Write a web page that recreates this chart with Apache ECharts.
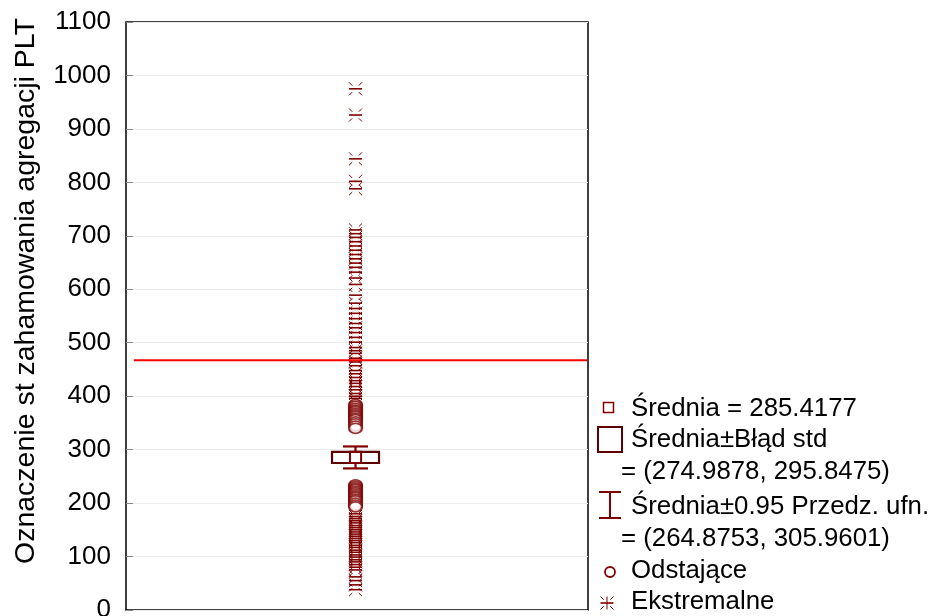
<!DOCTYPE html>
<html><head><meta charset="utf-8">
<script src="https://cdn.jsdelivr.net/npm/echarts@6/dist/echarts.min.js"></script>
<style>html,body{margin:0;padding:0;background:#fff}#c{width:932px;height:616px}</style>
</head><body><div id="c"></div>
<script>
const yAxisTitle = 'Oznaczenie st zahamowania agregacji PLT';
const yMin = 0, yMax = 1100, yInterval = 100;
const meanValue = 285.4177;
const stdErrRange = [274.9878, 295.8475];
const ci95Range = [264.8753, 305.9601];
const outliersHigh = [384, 381, 377, 374, 371, 368, 365, 362, 359, 356, 352, 348, 344, 340];
const outliersLow = [234, 231, 228, 225, 222, 219, 216, 213, 210, 207, 204, 200, 196, 193];
const extremesHigh = [975, 926, 844, 802, 788, 711, 704, 697, 689, 681, 673, 665, 657, 649, 641, 632, 621, 609, 589, 574, 564, 555, 545, 536, 528, 519, 510, 501, 491, 485, 480, 471, 464, 457, 448, 442, 435, 429, 424, 418, 412, 405, 400, 396];
const extremesLow = [180, 175, 171, 167, 163, 158, 154, 150, 146, 142, 138, 134, 130, 126, 121, 117, 112, 108, 103, 99, 94, 90, 85, 80, 75, 62, 55, 47, 38];
const referenceLine = 467;
const legendLabels = ['Średnia = 285.4177', 'Średnia±Błąd std', '= (274.9878, 295.8475)', 'Średnia±0.95 Przedz. ufn.', '= (264.8753, 305.9601)', 'Odstające', 'Ekstremalne'];

const MAROON = '#800000';
const FONT = 'Liberation Sans, Arial, sans-serif';
const colX = 0.4968;

const chart = echarts.init(document.getElementById('c'), null, {renderer: 'canvas'});

function starLines(cx, cy, vertical) {
  const hw = 6.5, hh = 6.5, s = 3.2;
  const st = {stroke: MAROON, lineWidth: 1};
  const ch = [
    {type: 'line', shape: {x1: cx - hw, y1: cy, x2: cx + hw, y2: cy}, style: {stroke: MAROON, lineWidth: 1.6}},
    {type: 'line', shape: {x1: cx - hw, y1: cy - hh, x2: cx - hw + s, y2: cy - hh + s}, style: st},
    {type: 'line', shape: {x1: cx + hw, y1: cy - hh, x2: cx + hw - s, y2: cy - hh + s}, style: st},
    {type: 'line', shape: {x1: cx - hw, y1: cy + hh, x2: cx - hw + s, y2: cy + hh - s}, style: st},
    {type: 'line', shape: {x1: cx + hw, y1: cy + hh, x2: cx + hw - s, y2: cy + hh - s}, style: st}
  ];
  if (vertical) ch.push({type: 'line', shape: {x1: cx, y1: cy - hh, x2: cx, y2: cy + hh}, style: st});
  return ch;
}

const legendTextX = 631;
const legendRows = [409, 440, 472, 507, 539, 571, 602];
const legendX = [legendTextX, legendTextX, 621, legendTextX, 621, legendTextX, legendTextX];

const graphics = [
  {type: 'text', x: 26, y: 291, rotation: Math.PI / 2,
   style: {text: yAxisTitle, font: '28.5px ' + FONT, fill: '#000', align: 'center', verticalAlign: 'middle'}},
  {type: 'rect', shape: {x: 603.5, y: 402.5, width: 10, height: 10}, style: {stroke: MAROON, lineWidth: 1.5, fill: null}},
  {type: 'rect', shape: {x: 598, y: 427, width: 24, height: 25}, style: {stroke: '#5c0000', lineWidth: 2, fill: null}},
  {type: 'line', shape: {x1: 610, y1: 492, x2: 610, y2: 518}, style: {stroke: MAROON, lineWidth: 2}},
  {type: 'line', shape: {x1: 599, y1: 492, x2: 621, y2: 492}, style: {stroke: MAROON, lineWidth: 2}},
  {type: 'line', shape: {x1: 599, y1: 518, x2: 621, y2: 518}, style: {stroke: MAROON, lineWidth: 2}},
  {type: 'circle', shape: {cx: 610, cy: 572, r: 5}, style: {stroke: MAROON, lineWidth: 1.8, fill: null}},
  {type: 'group', children: starLines(607, 603, true)}
];
legendLabels.forEach((t, i) => {
  graphics.push({type: 'text', x: legendX[i], y: legendRows[i],
    style: {text: t, font: '25.8px ' + FONT, fill: '#000', align: 'left', verticalAlign: 'middle'}});
});

const option = {
  animation: false,
  backgroundColor: '#fff',
  grid: {left: 126, right: 344, top: 22, bottom: 6, show: true, borderColor: '#000', borderWidth: 1.5,
         containLabel: false, outerBoundsMode: 'none'},
  xAxis: {type: 'value', min: 0, max: 1, show: true,
    axisLine: {show: false}, axisTick: {show: false}, axisLabel: {show: false}, splitLine: {show: false}},
  yAxis: {type: 'value', min: yMin, max: yMax, interval: yInterval,
    axisLine: {show: false},
    axisTick: {show: true, inside: true, length: 7, lineStyle: {color: '#888'}},
    axisLabel: {fontSize: 26, fontFamily: FONT, color: '#000', margin: 15, formatter: v => String(v)},
    splitLine: {show: true, lineStyle: {color: '#ececec', width: 1}}},
  graphic: graphics,
  series: [
    {
      type: 'custom', z: 3,
      data: [[colX, meanValue, stdErrRange[0], stdErrRange[1], ci95Range[0], ci95Range[1]]],
      encode: {x: 0, y: [1, 2, 3, 4, 5]},
      renderItem(params, api) {
        const x = api.value(0);
        const pM = api.coord([x, api.value(1)]);
        const pSL = api.coord([x, api.value(2)]);
        const pSH = api.coord([x, api.value(3)]);
        const pCL = api.coord([x, api.value(4)]);
        const pCH = api.coord([x, api.value(5)]);
        const cx = pM[0];
        const bw = 23.5, cw = 12.5;
        const st = {stroke: MAROON, lineWidth: 2.2};
        const h = pSL[1] - pSH[1];
        return {type: 'group', children: [
          {type: 'line', shape: {x1: cx, y1: pCH[1], x2: cx, y2: pSH[1]}, style: st},
          {type: 'line', shape: {x1: cx, y1: pSL[1], x2: cx, y2: pCL[1]}, style: st},
          {type: 'line', shape: {x1: cx - cw, y1: pCH[1], x2: cx + cw, y2: pCH[1]}, style: st},
          {type: 'line', shape: {x1: cx - cw, y1: pCL[1], x2: cx + cw, y2: pCL[1]}, style: st},
          {type: 'rect', shape: {x: cx - bw, y: pSH[1], width: 2 * bw, height: h}, style: {stroke: '#5c0000', lineWidth: 2.2, fill: '#fff'}},
          {type: 'rect', shape: {x: cx - h / 2, y: pM[1] - h / 2, width: h, height: h}, style: {stroke: MAROON, lineWidth: 2, fill: null}}
        ]};
      }
    },
    {
      type: 'scatter', z: 4,
      data: outliersHigh.concat(outliersLow).map(v => [colX, v]),
      symbol: 'emptyCircle', symbolSize: [13, 10],
      itemStyle: {color: MAROON, borderColor: MAROON, borderWidth: 1.6}
    },
    {
      type: 'custom', z: 4,
      data: extremesHigh.concat(extremesLow).map(v => [colX, v]),
      encode: {x: 0, y: 1},
      renderItem(params, api) {
        const p = api.coord([api.value(0), api.value(1)]);
        return {type: 'group', children: starLines(p[0], p[1], false)};
      }
    },
    {
      type: 'line', z: 6,
      data: [[0.017, referenceLine], [0.998, referenceLine]],
      symbol: 'none', lineStyle: {color: '#ff0000', width: 2}
    }
  ]
};
chart.setOption(option);
</script>
</body></html>
